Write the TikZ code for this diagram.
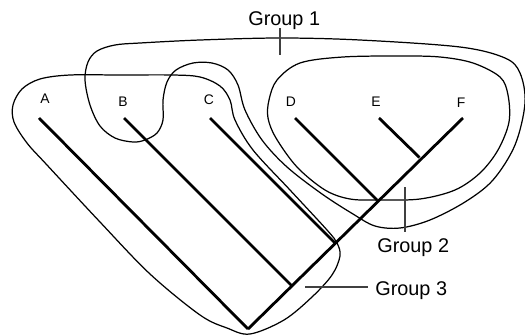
\documentclass[tikz,border=0pt]{standalone}
\usepackage{fontspec}
\setmainfont{Liberation Sans}
\tikzset{
  branch/.style={line width=1.6pt},
  outline/.style={line width=0.7pt},
  leader/.style={line width=1pt, black!75},
  taxon/.style={font=\fontsize{7.9}{9}\selectfont, inner sep=0pt, anchor=base},
  grouplabel/.style={font=\fontsize{11.3}{13}\selectfont, inner sep=0pt, anchor=base west}
}

\begin{document}
\begin{tikzpicture}[x=0.02cm,y=-0.02cm]
\useasboundingbox (0,0) rectangle (525,335);
% tree
\foreach \t/\x in {A/39,B/124,C/210,D/295,E/379,F/463}
  \coordinate (tip\t) at (\x,118);
\coordinate (root) at (248,329);
\coordinate (jB) at (291.5,285.5);
\coordinate (jC) at (334.5,242.5);
\coordinate (jD) at (377,200);
\coordinate (jE) at (419.5,157.5);
\draw[branch] (root) -- (tipF);
\draw[branch] (tipA) -- (root);
\draw[branch] (tipB) -- (jB);
\draw[branch] (tipC) -- (jC);
\draw[branch] (tipD) -- (jD);
\draw[branch] (tipE) -- (jE);
\node[taxon] (labA) at (45,103) {A};
\node[taxon] (labB) at (123,106) {B};
\node[taxon] (labC) at (209,104) {C};
\node[taxon] (labD) at (291,106) {D};
\node[taxon] (labE) at (376,106) {E};
\node[taxon] (labF) at (461,107) {F};
% group 3
\draw[outline] plot[smooth cycle, tension=0.55] coordinates {
  (70,75) (120,75) (173,75) (200,77) (220,86) (230,100) (235,120)
  (253,150) (290,190) (327,230) (337,243) (340,256) (332,275)
  (312,297) (284,320) (250,334) (227,328) (200,315) (150,274)
  (100,222) (47,165) (27,143) (14,122) (13,105) (22,89) (40,79)};
% group 2
\draw[outline] plot[smooth cycle, tension=0.55] coordinates {
  (300,63) (343,57) (400,56) (440,57) (473,63) (500,77) (508,95)
  (509,122) (498,150) (480,173) (455,190) (420,199) (380,200)
  (350,199) (325,190) (297,167) (276,138) (268,118) (269,100)
  (277,80)};
% group 1
\draw[outline] plot[smooth cycle, tension=0.55] coordinates {
  (280,38) (360,40) (460,47) (505,58) (520,73) (525,103) (515,145)
  (493,180) (465,202) (430,220) (400,228) (375,226) (353,214)
  (322,194) (287,167) (262,140) (245,110) (238,85) (228,70) (212,63)
  (193,63) (176,70) (167,82) (163,100) (163,120) (157,133) (145,140)
  (133,142) (115,138) (100,126) (90,105) (85,80) (88,62) (97,51)
  (115,45) (140,43) (200,40)};
% labels
\node[grouplabel] (grp1) at (248,25) {Group 1};
\node[grouplabel] (grp2) at (377,252) {Group 2};
\node[grouplabel] (grp3) at (375,295) {Group 3};
\coordinate (g1a) at (280,28);
\coordinate (g1b) at (280,55);
\draw[leader] (g1a) -- (g1b);
\coordinate (g2a) at (405,187);
\coordinate (g2b) at (405,232);
\draw[leader] (g2a) -- (g2b);
\coordinate (g3a) at (305,287);
\coordinate (g3b) at (368,287);
\draw[leader] (g3a) -- (g3b);
\end{tikzpicture}
\end{document}
